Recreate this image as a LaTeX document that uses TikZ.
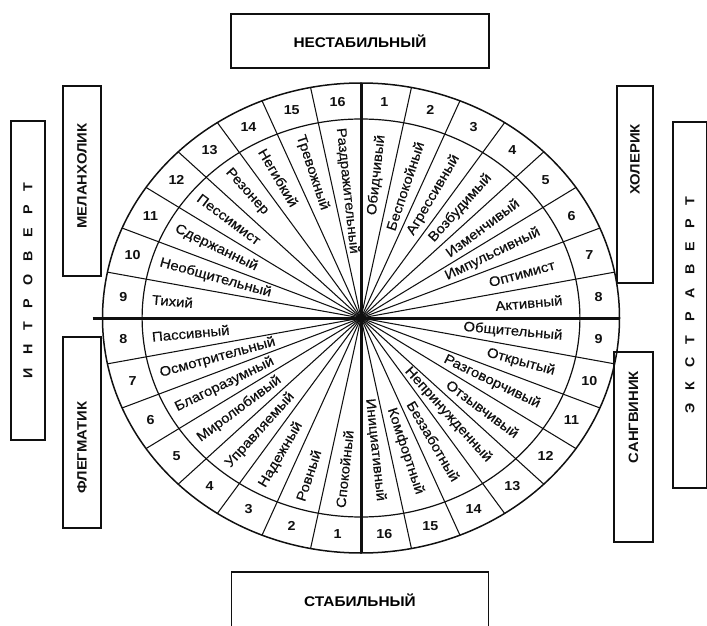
\documentclass[tikz,border=0pt]{standalone}
\usepackage{fontspec}
\setmainfont{Liberation Sans}
\newfontfamily\wordfont{Liberation Sans}[FakeStretch=1.1, FakeBold=0.4]
\newfontfamily\boldfont{Liberation Sans}[FakeStretch=1.1]
\usetikzlibrary{calc}
\definecolor{inkblack}{HTML}{101010}
\newcommand{\wide}{\spaceskip=13.5pt\relax}

\begin{document}
\begin{tikzpicture}[
    x=1pt, y=1pt,
    rim/.style={line width=1.5pt, inkblack},
    spoke/.style={line width=1.05pt, inkblack},
    axisline/.style={line width=3pt, inkblack},
    frame/.style={draw=inkblack, line width=1.4pt, inner sep=0pt},
    word/.style={font=\wordfont\fontsize{13.6}{14}\selectfont, inner sep=1pt, text=inkblack},
    num/.style={font=\boldfont\bfseries\fontsize{13}{13}\selectfont, inner sep=0pt, text=inkblack},
    typebox/.style={frame, rotate=90},
    typelbl/.style={rotate=90, inner sep=0pt, text=inkblack, font=\boldfont\bfseries\fontsize{13.5}{14}\selectfont},
    axlbl/.style={frame, font=\boldfont\bfseries\fontsize{14}{14}\selectfont}
  ]
  \useasboundingbox (0,0) rectangle (707,625);
  \clip (0,0) rectangle (707,625);
  \fill[white] (0,0) rectangle (707,625);

  \coordinate (c) at (361,307);

  % Rings
  \draw[rim] (c) ellipse [x radius=258.5, y radius=235];
  \draw[spoke, line width=1.2pt] (c) ellipse [x radius=218.9, y radius=199];

  % Spokes, one per sector border
  \foreach \k in {0,...,31} {
    \pgfmathsetmacro{\a}{90-11.25*\k}
    \coordinate (o\k) at ($(c)+({258.5*cos(\a)},{235*sin(\a)})$);
    \draw[spoke] (c) -- (o\k);
  }

  % Stable / unstable and intro / extro axes
  \coordinate (w) at ($(o24)+(-10,0)$);
  \draw[axisline] (o0) -- (o16);
  \draw[axisline] (w) -- (o8);

  % Sector numbers in the ring
  \foreach \k in {0,...,31} {
    \pgfmathsetmacro{\a}{90-11.25*(\k+0.5)}
    \pgfmathtruncatemacro{\n}{mod(\k,16)+1}
    \node[num] (n\k) at ($(c)+({1.1*217*cos(\a)},{217*sin(\a)})$) {\n};
  }

  % Traits, clockwise from the top
  \foreach \w [count=\i from 0] in {Обидчивый, Беспокойный, Агрессивный, Возбудимый,
      Изменчивый, Импульсивный, Оптимист, Активный,
      Общительный, Открытый, Разговорчивый, Отзывчивый,
      Непринужденный, Беззаботный, Комфортный, Инициативный,
      Спокойный, Ровный, Надежный, Управляемый,
      Миролюбивый, Благоразумный, Осмотрительный, Пассивный,
      Тихий, Необщительный, Сдержанный, Пессимист,
      Резонер, Негибкий, Тревожный, Раздражительный} {
    \pgfmathsetmacro{\a}{90-11.25*(\i+0.5)}
    \pgfmathsetmacro{\t}{atan2(sin(\a),1.1*cos(\a))}
    \pgfmathsetmacro{\tl}{\t+180}
    \ifnum\i<16
      \node[word, rotate=\t, anchor=east] (t\i)
        at ($(c)+({1.1*185*cos(\a)},{185*sin(\a)})$) {\w};
    \else
      \node[word, rotate=\tl, anchor=west] (t\i)
        at ($(c)+({1.1*192*cos(\a)},{192*sin(\a)})$) {\w};
    \fi
  }

  % Temperament boxes
  \node[typebox, minimum width=190, minimum height=38] (mel) at (82,444) {};
  \node[typebox, minimum width=191, minimum height=38] (phl) at (82,192.5) {};
  \node[typebox, minimum width=197, minimum height=36] (cho) at (635,440.5) {};
  \node[typebox, minimum width=190, minimum height=39] (san) at (633.5,178) {};
  \node[typelbl] (mellbl) at ($(mel)+(0,5)$) {МЕЛАНХОЛИК};
  \node[typelbl] (phllbl) at ($(phl)+(0,-15)$) {ФЛЕГМАТИК};
  \node[typelbl] (cholbl) at ($(cho)+(0,25)$) {ХОЛЕРИК};
  \node[typelbl] (sanlbl) at ($(san)+(0,30)$) {САНГВИНИК};

  % Introvert / extravert
  \node[typebox, minimum width=319, minimum height=34] (intro) at (28,344.5) {};
  \node[typebox, minimum width=366, minimum height=34] (extra) at (690,320) {};
  \node[typelbl, font=\boldfont\bfseries\fontsize{13}{13}\selectfont] (introlbl) at (intro) {\wide И Н Т Р О В Е Р Т};
  \node[typelbl, font=\boldfont\bfseries\fontsize{13}{13}\selectfont] (extralbl) at (extra) {\wide Э К С Т Р А В Е Р Т};

  % Stability
  \node[axlbl, minimum width=258, minimum height=54] (unst) at (360,584) {НЕСТАБИЛЬНЫЙ};
  \node[axlbl, minimum width=257, minimum height=56] (stab) at (360,25) {СТАБИЛЬНЫЙ};
\end{tikzpicture}
\end{document}
